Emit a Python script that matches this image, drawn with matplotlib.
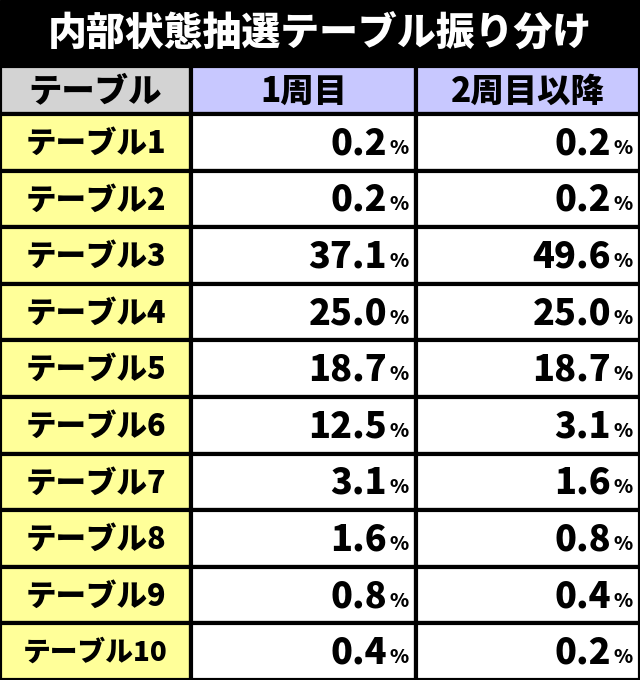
import matplotlib
matplotlib.use("Agg")
import matplotlib.pyplot as plt
from matplotlib.patches import Rectangle

title = "内部状態抽選テーブル振り分け"
headers = ["テーブル", "1周目", "2周目以降"]
rows = [f"テーブル{i}" for i in range(1, 11)]
first = ["0.2", "0.2", "37.1", "25.0", "18.7", "12.5", "3.1", "1.6", "0.8", "0.4"]
later = ["0.2", "0.2", "49.6", "25.0", "18.7", "3.1", "1.6", "0.8", "0.4", "0.2"]

FONT = "Noto Sans CJK JP"
W, H = 640, 680
fig = plt.figure(figsize=(6.4, 6.8), dpi=100)
ax = fig.add_axes([0, 0, 1, 1])
ax.set_xlim(0, W); ax.set_ylim(H, 0); ax.axis("off")

ax.add_patch(Rectangle((0, 0), W, 66, color="black"))
ax.text(W / 2, 33, title, color="white", fontsize=28, fontweight="black",
        family=FONT, ha="center", va="center")

cols = [0, 191, 416, 640]
top, hh = 66, 48
rh = (H - top - hh) / len(rows)
hcol = ["#d3d3d3", "#c8c8ff", "#c8c8ff"]
lw = 3
for j, h in enumerate(headers):
    ax.add_patch(Rectangle((cols[j], top), cols[j + 1] - cols[j], hh,
                           facecolor=hcol[j], edgecolor="black", lw=lw))
    ax.text((cols[j] + cols[j + 1]) / 2, top + hh / 2 + 1, h, fontsize=24,
            fontweight="black", family=FONT, ha="center", va="center")
for i, name in enumerate(rows):
    y = top + hh + i * rh
    vals = [first[i], later[i]]
    ax.add_patch(Rectangle((cols[0], y), cols[1] - cols[0], rh,
                           facecolor="#ffff99", edgecolor="black", lw=lw))
    ax.text((cols[0] + cols[1]) / 2, y + rh / 2 + 1, name,
            fontsize=22 if i < 9 else 20, fontweight="black", family=FONT,
            ha="center", va="center")
    for j in range(2):
        x0, x1 = cols[j + 1], cols[j + 2]
        ax.add_patch(Rectangle((x0, y), x1 - x0, rh,
                               facecolor="white", edgecolor="black", lw=lw))
        ax.text(x1 - 29, y + rh / 2 + 1, vals[j], fontsize=26,
                fontweight="black", family=FONT, ha="right", va="center")
        ax.text(x1 - 7, y + rh / 2 + 6, "%", fontsize=14,
                fontweight="black", family=FONT, ha="right", va="center")

fig.savefig("out.png", dpi=100)
